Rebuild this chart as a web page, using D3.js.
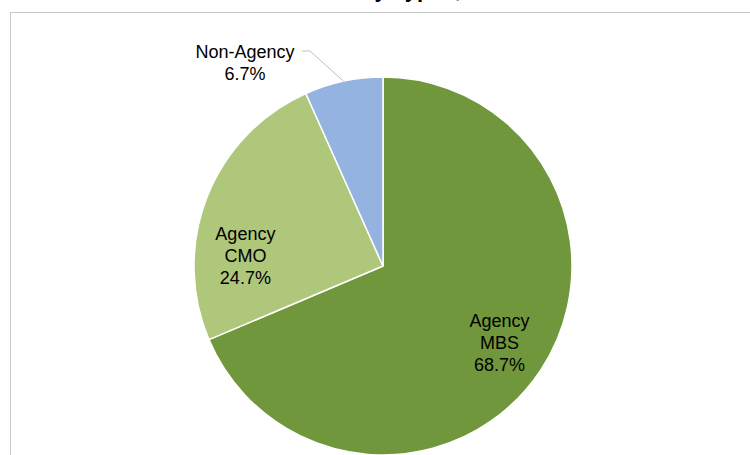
<!DOCTYPE html>
<html>
<head>
<meta charset="utf-8">
<script src="https://cdn.jsdelivr.net/npm/d3@7"></script>
<style>
  html, body { margin: 0; padding: 0; background: #fff; overflow: hidden; }
  svg { display: block; }
  text { font-family: "Liberation Sans", Arial, sans-serif; }
</style>
</head>
<body>
<svg id="chart" width="750" height="455"></svg>
<script>
// ---- data ----
const titleText = "Securities by Types, 2013";
const categories = ["Agency MBS", "Agency CMO", "Non-Agency"];
const values = [68.7, 24.7, 6.7];
const labelLines = [["Agency", "MBS", "68.7%"], ["Agency", "CMO", "24.7%"], ["Non-Agency", "6.7%"]];
const colors = ["#71973d", "#afc77a", "#95b3e0"];

// ---- layout ----
const W = 750, H = 455;
const cx = 383, cy = 266, R = 189;
const labelRadius = [0.74, 0.72, 1.0];
const labelAdjust = [[0, 0], [-11, 40], [0, 0]];

const svg = d3.select("#chart");

// frame
svg.append("rect")
  .attr("x", 10.5).attr("y", 12.5)
  .attr("width", W + 50).attr("height", H + 50)
  .attr("fill", "#fff")
  .attr("stroke", "#c8c8c8").attr("stroke-width", 1);

// title (cropped above the frame; only descenders show)
svg.append("text")
  .attr("x", 383).attr("y", -3)
  .attr("text-anchor", "middle")
  .attr("font-size", 22).attr("font-weight", "bold")
  .attr("fill", "#000")
  .text(titleText);

const data = categories.map((c, i) => ({ cat: c, value: values[i], i }));
const pie = d3.pie().value(d => d.value).sort(null);
const arcs = pie(data);
const arc = d3.arc().innerRadius(0).outerRadius(R);

const g = svg.append("g").attr("transform", `translate(${cx},${cy})`);

g.selectAll("path.slice")
  .data(arcs)
  .join("path")
  .attr("class", "slice")
  .attr("d", arc)
  .attr("fill", d => colors[d.data.i])
  .attr("stroke", "#fff")
  .attr("stroke-width", 1.5)
  .attr("stroke-linejoin", "round");

const lineH = 22;

// inside labels
arcs.forEach((a, k) => {
  const lines = labelLines[k];
  if (k === 2) return;
  const lr = R * labelRadius[k];
  const c = d3.arc().innerRadius(lr).outerRadius(lr).centroid(a);
  const x = c[0] + labelAdjust[k][0];
  const y = c[1] + labelAdjust[k][1];
  const t = g.append("text")
    .attr("text-anchor", "middle")
    .attr("font-size", 18)
    .attr("fill", "#000");
  lines.forEach((ln, j) => {
    t.append("tspan")
      .attr("x", x)
      .attr("y", y + (j - (lines.length - 1) / 2) * lineH + 6)
      .text(ln);
  });
});

// outside label with leader line for Non-Agency
{
  const a = arcs[2];
  const p0 = d3.arc().innerRadius(R).outerRadius(R).centroid(a);
  const labelX = 245 - cx, labelY = 63 - cy;
  const elbow = [310 - cx, 51 - cy];
  const end = [302 - cx, 51 - cy];
  g.append("polyline")
    .attr("points", [p0, elbow, end].map(p => p.join(",")).join(" "))
    .attr("fill", "none")
    .attr("stroke", "#bfbfbf")
    .attr("stroke-width", 1);
  const t = g.append("text")
    .attr("text-anchor", "middle")
    .attr("font-size", 18)
    .attr("fill", "#000");
  labelLines[2].forEach((ln, j) => {
    t.append("tspan")
      .attr("x", labelX)
      .attr("y", labelY + (j - 0.5) * lineH + 6)
      .text(ln);
  });
}
</script>
</body>
</html>
